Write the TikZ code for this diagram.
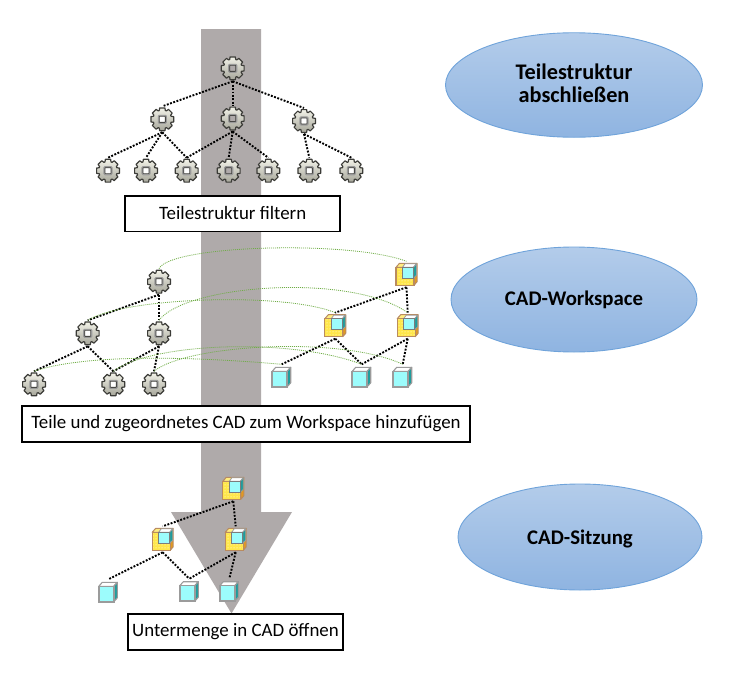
\documentclass[tikz,border=0pt]{standalone}
\usepackage{fontspec}
\setmainfont{Carlito}
\usetikzlibrary{patterns,shapes.geometric}
\definecolor{arrowgrey}{HTML}{AFAAAA}
\definecolor{ovalline}{HTML}{6FA3DA}
\definecolor{ovaltop}{HTML}{B3CCEA}
\definecolor{ovalbot}{HTML}{8FB4E1}
\definecolor{linkgreen}{HTML}{70AD47}
\definecolor{cadbrown}{HTML}{B98B60}
\definecolor{cadyellow}{HTML}{FFE64A}
\definecolor{cadorange}{HTML}{E39A1F}
\definecolor{cadcyan}{HTML}{9CFCFC}
\definecolor{cadteal}{HTML}{1F9C9C}
\definecolor{cadgrey}{HTML}{9B9B9B}
\definecolor{geartop}{HTML}{F2F2E8}
\definecolor{gearbot}{HTML}{A6A69A}
\definecolor{gearline}{HTML}{3C3C38}

% Part cube, drawn around the current origin
\newcommand{\cubeicon}{%
  \filldraw[cadgrey,fill=white,line width=1.1pt,line join=round] (-9.5,-6) -- (-6,-10) -- (9,-10) -- (5.5,-6) -- cycle;
  \filldraw[cadgrey,fill=cadteal,line width=1.1pt,line join=round] (5.5,-6) -- (9,-10) -- (9,5.5) -- (5.5,9.5) -- cycle;
  \filldraw[cadgrey,fill=cadcyan,line width=1.5pt] (-9.5,-6) rectangle (5.5,9.5);
}
% Assembly: dotted yellow folder body holding a small cube
\newcommand{\assemblyicon}{%
  \filldraw[cadbrown,fill=cadyellow!70!white,line width=1pt,line join=round] (-10.5,-7) -- (-7,-11) -- (10,-11) -- (7.5,-7) -- cycle;
  \filldraw[cadbrown,fill=cadorange,line width=1pt,line join=round] (7.5,-7) -- (10.5,-11) -- (10.5,7.5) -- (7.5,11) -- cycle;
  \fill[cadyellow] (-10.5,-7) rectangle (7.5,11);
  \fill[pattern=dots,pattern color=white] (-10.5,-7) rectangle (7.5,11);
  \draw[cadbrown,line width=1.2pt] (-10.5,-7) rectangle (7.5,11);
  \filldraw[cadgrey,fill=white,line width=.8pt,line join=round] (-4,-7) -- (-1.5,-10.5) -- (10,-10.5) -- (7,-7) -- cycle;
  \filldraw[cadgrey,fill=cadteal,line width=.8pt,line join=round] (7,-7) -- (10,-10.5) -- (10,1) -- (7,4) -- cycle;
  \filldraw[cadgrey!80!black,fill=cadcyan,line width=1pt] (-4,-7) rectangle (7,4);
}
% Eight-toothed gear with a see-through square hole
\newcommand{\gearicon}{%
  \path[draw=gearline,line width=1.2pt,line join=round,even odd rule,
        top color=geartop,bottom color=gearbot]
    (-13:11.7)
    \foreach \a in {0,45,...,315} {
      -- (\a-13:11.7) -- (\a+13:11.7) -- (\a+19:9.3) -- (\a+26:9.3)
    } -- cycle
    (-3.2,-3.2) -- (3.2,-3.2) -- (3.2,3.2) -- (-3.2,3.2) -- cycle;
  \draw[black!40,line width=1.1pt,rounded corners=1pt] (-4,-4) rectangle (4,4);
}

\tikzset{
  x=1pt,y=-1pt,
  iconbase/.style={rectangle,minimum size=26pt,inner sep=0pt,outer sep=0pt},
  gear/.style={iconbase,path picture={\begin{scope}[shift={(path picture bounding box.center)}]\gearicon\end{scope}}},
  assembly/.style={iconbase,path picture={\begin{scope}[shift={(path picture bounding box.center)}]\assemblyicon\end{scope}}},
  cube/.style={iconbase,path picture={\begin{scope}[shift={(path picture bounding box.center)}]\cubeicon\end{scope}}},
  tie/.style={draw=black,line width=1.9pt,dash pattern=on 1.9pt off 1.5pt},
  greenlink/.style={draw=linkgreen,line width=.8pt,dash pattern=on 1pt off 1pt},
  stepbox/.style={draw=black,line width=1.8pt,fill=white,inner sep=0pt,font=\fontsize{18.9pt}{22pt}\selectfont,align=center},
  oval/.style={ellipse,draw=ovalline,line width=.9pt,top color=ovaltop,bottom color=ovalbot,inner sep=0pt,
    font=\bfseries\fontsize{20.8pt}{23pt}\selectfont,align=center},
}

\begin{document}
\begin{tikzpicture}
\useasboundingbox (0,0) rectangle (734,680);

% Flow arrow behind the three trees
\fill[arrowgrey] (201,29) -- (261,29) -- (261,512) -- (292,512) -- (231.5,613.5) -- (171,512) -- (201,512) -- cycle;

% Part structure
\node[gear] (r0) at (232.7,68.3) {};
\node[gear] (r1) at (162.3,119.3) {};
\node[gear] (r2) at (232.7,118.5) {};
\node[gear] (r3) at (304,121) {};
\node[gear] (l1) at (108,170.7) {};
\node[gear] (l2) at (146,170.7) {};
\node[gear] (l3) at (186.7,170.7) {};
\node[gear] (l4) at (228.7,170.7) {};
\node[gear] (l5) at (268.3,170.7) {};
\node[gear] (l6) at (309.3,170.7) {};
\node[gear] (l7) at (351.3,170.7) {};
\foreach \c in {r1,r2,r3} \draw[tie] (r0.south) -- (\c.north);
\foreach \c in {l1,l2,l3} \draw[tie] (r1.south) -- (\c.north);
\foreach \c in {l3,l4,l5} \draw[tie] (r2.south) -- (\c.north);
\foreach \c in {l6,l7} \draw[tie] (r3.south) -- (\c.north);

% Workspace: part tree
\node[gear] (w0) at (159,281.7) {};
\node[gear] (w1) at (87.7,333.3) {};
\node[gear] (w2) at (159,333.3) {};
\node[gear] (w3) at (34,384.3) {};
\node[gear] (w4) at (113.3,384.3) {};
\node[gear] (w5) at (154,384.3) {};
\foreach \c in {w1,w2} \draw[tie] (w0.south) -- (\c.north);
\foreach \c in {w3,w4} \draw[tie] (w1.south) -- (\c.north);
\foreach \c in {w4,w5} \draw[tie] (w2.south) -- (\c.north);

% Workspace: CAD tree
\node[assembly] (c0) at (406.5,274.3) {};
\node[assembly] (c1) at (335.3,325.7) {};
\node[assembly] (c2) at (407.7,325.7) {};
\node[cube] (c3) at (281.7,377.3) {};
\node[cube] (c4) at (361.7,377.3) {};
\node[cube] (c5) at (402.7,377.3) {};
\foreach \c in {c1,c2} \draw[tie] (c0.south) -- (\c.north);
\foreach \c in {c3,c4} \draw[tie] (c1.south) -- (\c.north);
\foreach \c in {c4,c5} \draw[tie] (c2.south) -- (\c.north);

% Links between each part and its CAD item
\draw[greenlink] (w0.north) .. controls (170,245) and (350,240) .. (c0.north);
\draw[greenlink] (w1.north) .. controls (125,297) and (285,292) .. (c1.north);
\draw[greenlink] (w2.north) .. controls (185,285) and (350,272) .. (c2.north);
\draw[greenlink] (w3.north) .. controls (90,352) and (210,358) .. (c3.north);
\draw[greenlink] (w4.north) .. controls (150,343) and (290,337) .. (c4.north);
\draw[greenlink] (w5.north) .. controls (185,345) and (340,335) .. (c5.north);

% CAD session tree
\node[assembly] (s0) at (233.3,488.3) {};
\node[assembly] (s1) at (162.7,539.3) {};
\node[assembly] (s2) at (235.7,539.3) {};
\node[cube] (s3) at (108.3,592.3) {};
\node[cube] (s4) at (189.3,591.7) {};
\node[cube] (s5) at (229.3,591.7) {};
\foreach \c in {s1,s2} \draw[tie] (s0.south) -- (\c.north);
\foreach \c in {s3,s4} \draw[tie] (s1.south) -- (\c.north);
\foreach \c in {s4,s5} \draw[tie] (s2.south) -- (\c.north);

% Step captions
\node[stepbox,minimum width=215pt,minimum height=35.5pt,text depth=2pt] (b1) at (232.7,213.8) {Teilestruktur filtern};
\node[stepbox,minimum width=448pt,minimum height=35.5pt] (b2) at (246,424) {Teile und zugeordnetes CAD zum Workspace hinzufügen};
\node[stepbox,minimum width=215pt,minimum height=36pt] (b3) at (235.5,632) {Untermenge in CAD öffnen};

% Stage ovals
\node[oval,minimum width=257pt,minimum height=104.5pt,font=\bfseries\fontsize{22.3pt}{23pt}\selectfont] (o1) at (574,85) {Teilestruktur\\abschließen\rule[-3pt]{0pt}{3pt}};
\node[oval,minimum width=246pt,minimum height=105pt,text depth=2pt] (o2) at (574,299.5) {CAD-Workspace};
\node[oval,minimum width=244pt,minimum height=106pt,text depth=0pt] (o3) at (580,537) {CAD-Sitzung};
\end{tikzpicture}
\end{document}
